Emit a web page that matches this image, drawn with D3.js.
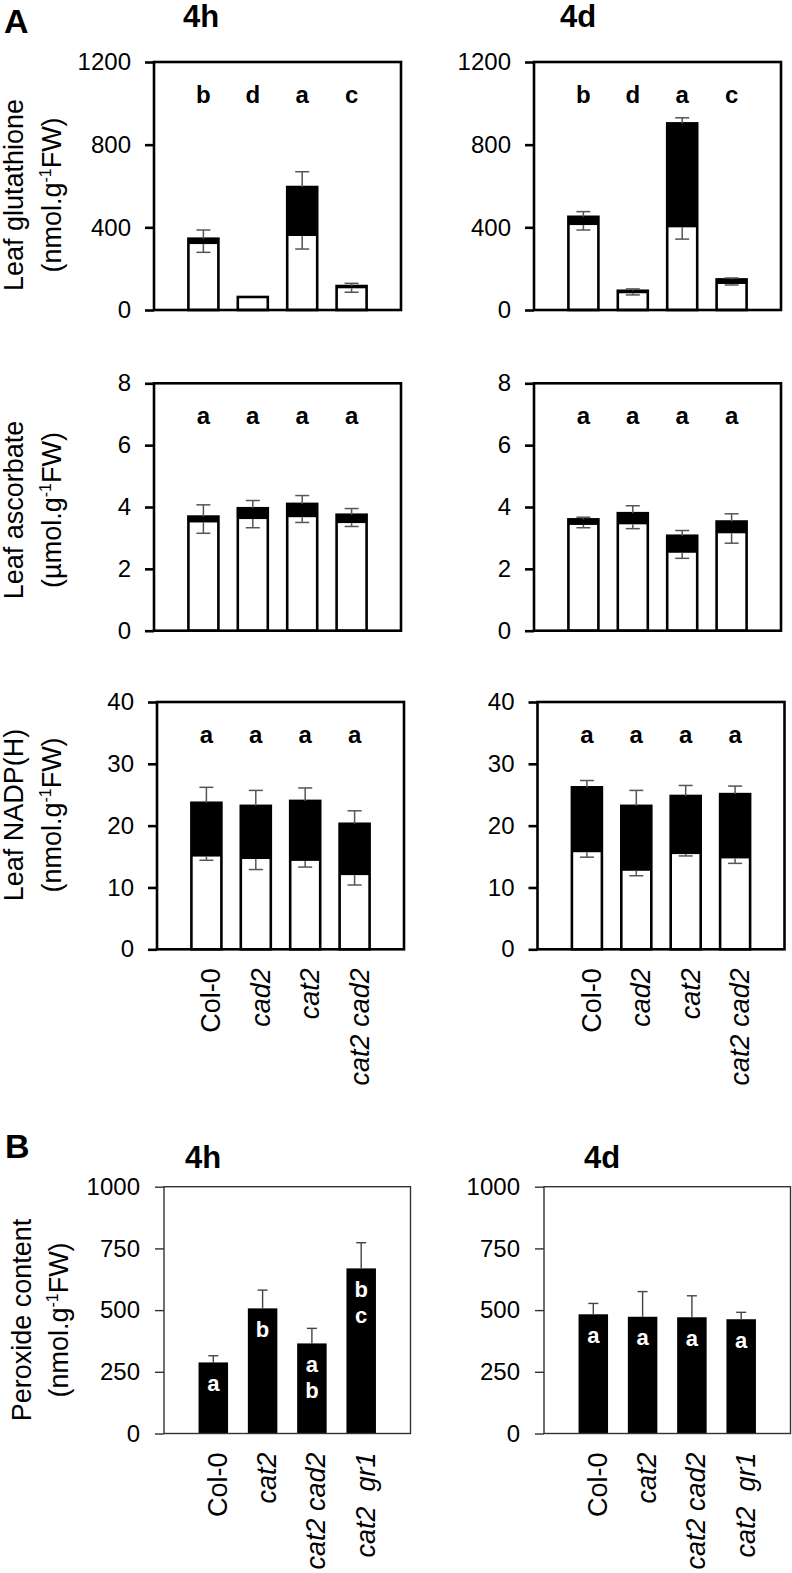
<!DOCTYPE html>
<html><head><meta charset="utf-8">
<script src="https://cdn.jsdelivr.net/npm/d3@7"></script>
<style>
body{margin:0;background:#fff;}
svg{display:block;font-family:"Liberation Sans",Arial,Helvetica,sans-serif;}
</style></head><body>
<svg id="c" width="792" height="1573"></svg>
<script>
// ---------- DATA ----------
const genotypesA = ["Col-0", "cad2", "cat2", "cat2 cad2"];
const genotypesB = ["Col-0", "cat2", "cat2 cad2", "cat2  gr1"];

const gshTicks = [0, 400, 800, 1200];
const ascTicks = [0, 2, 4, 6, 8];
const nadpTicks = [0, 10, 20, 30, 40];
const peroxTicks = [0, 250, 500, 750, 1000];

// Leaf glutathione (nmol/g FW): total, reduced, SE up (total), SE down (reduced)
const gsh4hTotal = [345, 63, 595, 116];
const gsh4hReduced = [319, 60, 358, 105];
const gsh4hErrUp = [42, 0, 74, 13];
const gsh4hErrDown = [40, 0, 63, 19];
const gsh4hLetters = ["b", "d", "a", "c"];

const gsh4dTotal = [451, 93, 903, 148];
const gsh4dReduced = [411, 81, 400, 126];
const gsh4dErrUp = [25, 9, 27, 7];
const gsh4dErrDown = [24, 8, 57, 5];
const gsh4dLetters = ["b", "d", "a", "c"];

// Leaf ascorbate (µmol/g FW)
const asc4hTotal = [3.69, 3.96, 4.10, 3.75];
const asc4hReduced = [3.50, 3.61, 3.67, 3.48];
const asc4hErrUp = [0.38, 0.25, 0.27, 0.20];
const asc4hErrDown = [0.35, 0.28, 0.17, 0.11];
const asc4hLetters = ["a", "a", "a", "a"];

const asc4dTotal = [3.60, 3.80, 3.07, 3.53];
const asc4dReduced = [3.42, 3.44, 2.52, 3.15];
const asc4dErrUp = [0.07, 0.24, 0.17, 0.25];
const asc4dErrDown = [0.09, 0.14, 0.18, 0.32];
const asc4dLetters = ["a", "a", "a", "a"];

// Leaf NADP(H) (nmol/g FW)
const nadp4hTotal = [23.7, 23.2, 24.0, 20.3];
const nadp4hReduced = [15.0, 14.6, 14.3, 12.0];
const nadp4hErrUp = [2.5, 2.5, 2.1, 2.1];
const nadp4hErrDown = [0.6, 1.7, 1.0, 1.6];
const nadp4hLetters = ["a", "a", "a", "a"];

const nadp4dTotal = [26.2, 23.2, 24.8, 25.1];
const nadp4dReduced = [15.7, 12.7, 15.4, 14.7];
const nadp4dErrUp = [1.1, 2.5, 1.7, 1.3];
const nadp4dErrDown = [0.8, 0.8, 0.3, 0.8];
const nadp4dLetters = ["a", "a", "a", "a"];

// Peroxide content (nmol/g FW)
const perox4h = [288, 507, 365, 669];
const perox4hErr = [27, 74, 61, 104];
const perox4hLetters = [["a"], ["b"], ["a", "b"], ["b", "c"]];

const perox4d = [483, 473, 471, 463];
const perox4dErr = [44, 102, 87, 28];
const perox4dLetters = [["a"], ["a"], ["a"], ["a"]];

// ---------- DRAWING ----------
const svg = d3.select("#c");
const FONT_TICK = 24, FONT_LAB = 27, FONT_LET = 24;
const isItalic = d => d !== "Col-0";
const fmt = d3.format("d");

function styleAxis(ax, sw, col) {
  ax.select(".domain").remove();
  ax.selectAll(".tick line").attr("stroke", col).attr("stroke-width", sw);
  ax.selectAll(".tick text").attr("font-size", FONT_TICK).attr("fill", "#000")
    .attr("font-family", '"Liberation Sans",Arial,sans-serif');
}

function stackedPanel(o) {
  const W = 247;
  const g = svg.append("g").attr("transform", `translate(${o.left},${o.top})`);
  const x = d3.scalePoint().domain(genotypesA).range([0, W]).padding(1);
  const y = d3.scaleLinear().domain([0, o.max]).range([o.h, 0]);
  const bw = 30;
  g.selectAll("rect.w").data(genotypesA).join("rect").attr("class", "w")
    .attr("x", d => x(d) - bw / 2).attr("width", bw)
    .attr("y", (d, i) => y(o.total[i])).attr("height", (d, i) => y(0) - y(o.total[i]))
    .attr("fill", "#fff").attr("stroke", "#000").attr("stroke-width", 2.6);
  g.selectAll("rect.k").data(genotypesA).join("rect").attr("class", "k")
    .attr("x", d => x(d) - bw / 2).attr("width", bw)
    .attr("y", (d, i) => y(o.total[i])).attr("height", (d, i) => y(o.reduced[i]) - y(o.total[i]))
    .attr("fill", "#000");
  const errCol = "#555";
  genotypesA.forEach((d, i) => {
    const cx = x(d);
    if (o.up[i] > 0) {
      const y1 = y(o.total[i]), y2 = y(o.total[i] + o.up[i]);
      g.append("line").attr("x1", cx).attr("x2", cx).attr("y1", y1).attr("y2", y2).attr("stroke", errCol).attr("stroke-width", 1.5);
      g.append("line").attr("x1", cx - 7).attr("x2", cx + 7).attr("y1", y2).attr("y2", y2).attr("stroke", errCol).attr("stroke-width", 1.5);
    }
    if (o.down[i] > 0) {
      const y1 = y(o.reduced[i]), y2 = y(o.reduced[i] - o.down[i]);
      g.append("line").attr("x1", cx).attr("x2", cx).attr("y1", y1).attr("y2", y2).attr("stroke", errCol).attr("stroke-width", 1.5);
      g.append("line").attr("x1", cx - 7).attr("x2", cx + 7).attr("y1", y2).attr("y2", y2).attr("stroke", errCol).attr("stroke-width", 1.5);
    }
  });
  g.append("rect").attr("x", 0).attr("y", 0).attr("width", W).attr("height", o.h)
    .attr("fill", "none").attr("stroke", "#000").attr("stroke-width", 2.6);
  const ax = g.append("g").call(d3.axisLeft(y).tickValues(o.ticks).tickFormat(fmt).tickSize(9).tickPadding(14).tickSizeOuter(0));
  styleAxis(ax, 2.6, "#000");
  g.selectAll("text.let").data(genotypesA).join("text").attr("class", "let")
    .attr("x", d => x(d)).attr("y", y(o.max * 0.87)).attr("dy", "0.35em")
    .attr("text-anchor", "middle").attr("font-weight", "bold").attr("font-size", FONT_LET)
    .text((d, i) => o.letters[i]);
  if (o.xlabels) {
    g.selectAll("text.xl").data(genotypesA).join("text").attr("class", "xl")
      .attr("transform", d => `translate(${x(d)},${o.h + 19}) rotate(-90)`)
      .attr("dy", "0.52em").attr("text-anchor", "end").attr("font-size", FONT_LAB)
      .attr("font-style", d => isItalic(d) ? "italic" : "normal")
      .style("white-space", "pre").text(d => d);
  }
  return g;
}

function singlePanel(o) {
  const W = 246.5;
  const g = svg.append("g").attr("transform", `translate(${o.left},${o.top})`);
  const x = d3.scalePoint().domain(genotypesB).range([0, W]).padding(1);
  const y = d3.scaleLinear().domain([0, o.max]).range([o.h, 0]);
  const bw = 29.5;
  g.selectAll("rect.b").data(genotypesB).join("rect").attr("class", "b")
    .attr("x", d => x(d) - bw / 2).attr("width", bw)
    .attr("y", (d, i) => y(o.vals[i])).attr("height", (d, i) => y(0) - y(o.vals[i]))
    .attr("fill", "#000");
  const errCol = "#444";
  genotypesB.forEach((d, i) => {
    const cx = x(d), y1 = y(o.vals[i]), y2 = y(o.vals[i] + o.err[i]);
    g.append("line").attr("x1", cx).attr("x2", cx).attr("y1", y1).attr("y2", y2).attr("stroke", errCol).attr("stroke-width", 1.4);
    g.append("line").attr("x1", cx - 5).attr("x2", cx + 5).attr("y1", y2).attr("y2", y2).attr("stroke", errCol).attr("stroke-width", 1.4);
    o.letters[i].forEach((l, j) => {
      g.append("text").attr("x", cx).attr("y", y1 + 21 + j * 26).attr("dy", "0.35em")
        .attr("text-anchor", "middle").attr("font-weight", "bold").attr("font-size", 22)
        .attr("fill", "#fff").text(l);
    });
  });
  g.append("rect").attr("x", 0).attr("y", 0).attr("width", W).attr("height", o.h)
    .attr("fill", "none").attr("stroke", "#333").attr("stroke-width", 1.4);
  const ax = g.append("g").call(d3.axisLeft(y).tickValues(o.ticks).tickFormat(fmt).tickSize(9).tickPadding(15).tickSizeOuter(0));
  styleAxis(ax, 1.4, "#333");
  g.selectAll("text.xl").data(genotypesB).join("text").attr("class", "xl")
    .attr("transform", d => `translate(${x(d)},${o.h + 19}) rotate(-90)`)
    .attr("dy", "0.5em").attr("text-anchor", "end").attr("font-size", FONT_LAB)
    .attr("font-style", d => isItalic(d) ? "italic" : "normal")
    .style("white-space", "pre").text(d => d);
  return g;
}

function yLabel(cy, x1, x2, line1, unitPre) {
  svg.append("text").attr("transform", `translate(${x1},${cy}) rotate(-90)`)
    .attr("text-anchor", "middle").attr("font-size", FONT_LAB).text(line1);
  const t2 = svg.append("text").attr("transform", `translate(${x2},${cy}) rotate(-90)`)
    .attr("text-anchor", "middle").attr("font-size", FONT_LAB);
  t2.append("tspan").text(unitPre);
  t2.append("tspan").attr("font-size", 16).attr("dy", -10).text("-1");
  t2.append("tspan").attr("dy", 10).text("FW)");
}

// Panel A
stackedPanel({left: 154, top: 62, h: 248, max: 1200, ticks: gshTicks,
  total: gsh4hTotal, reduced: gsh4hReduced, up: gsh4hErrUp, down: gsh4hErrDown, letters: gsh4hLetters});
stackedPanel({left: 534, top: 62, h: 248, max: 1200, ticks: gshTicks,
  total: gsh4dTotal, reduced: gsh4dReduced, up: gsh4dErrUp, down: gsh4dErrDown, letters: gsh4dLetters});
stackedPanel({left: 154, top: 383.3, h: 247.4, max: 8, ticks: ascTicks,
  total: asc4hTotal, reduced: asc4hReduced, up: asc4hErrUp, down: asc4hErrDown, letters: asc4hLetters});
stackedPanel({left: 534, top: 383.3, h: 247.4, max: 8, ticks: ascTicks,
  total: asc4dTotal, reduced: asc4dReduced, up: asc4dErrUp, down: asc4dErrDown, letters: asc4dLetters});
stackedPanel({left: 157, top: 702, h: 247.3, max: 40, ticks: nadpTicks,
  total: nadp4hTotal, reduced: nadp4hReduced, up: nadp4hErrUp, down: nadp4hErrDown, letters: nadp4hLetters, xlabels: true});
stackedPanel({left: 537.5, top: 702, h: 247.3, max: 40, ticks: nadpTicks,
  total: nadp4dTotal, reduced: nadp4dReduced, up: nadp4dErrUp, down: nadp4dErrDown, letters: nadp4dLetters, xlabels: true});

yLabel(195, 23, 61, "Leaf glutathione", "(nmol.g");
yLabel(510, 23, 61, "Leaf ascorbate", "(µmol.g");
yLabel(815, 23, 61, "Leaf NADP(H)", "(nmol.g");

// Panel B
singlePanel({left: 164, top: 1186.7, h: 246.8, max: 1000, ticks: peroxTicks,
  vals: perox4h, err: perox4hErr, letters: perox4hLetters});
singlePanel({left: 544, top: 1186.7, h: 246.8, max: 1000, ticks: peroxTicks,
  vals: perox4d, err: perox4dErr, letters: perox4dLetters});
yLabel(1320, 31, 68, "Peroxide content", "(nmol.g");

// Titles & panel letters
const bold = (x, y, s, t, anchor) => svg.append("text").attr("x", x).attr("y", y)
  .attr("font-size", s).attr("font-weight", "bold").attr("text-anchor", anchor).text(t);
bold(4, 33, 34, "A", "start");
bold(201, 27, 31, "4h", "middle");
bold(578, 27, 31, "4d", "middle");
bold(5, 1158, 34, "B", "start");
bold(203, 1168, 31, "4h", "middle");
bold(602, 1168, 31, "4d", "middle");
</script>
</body></html>
